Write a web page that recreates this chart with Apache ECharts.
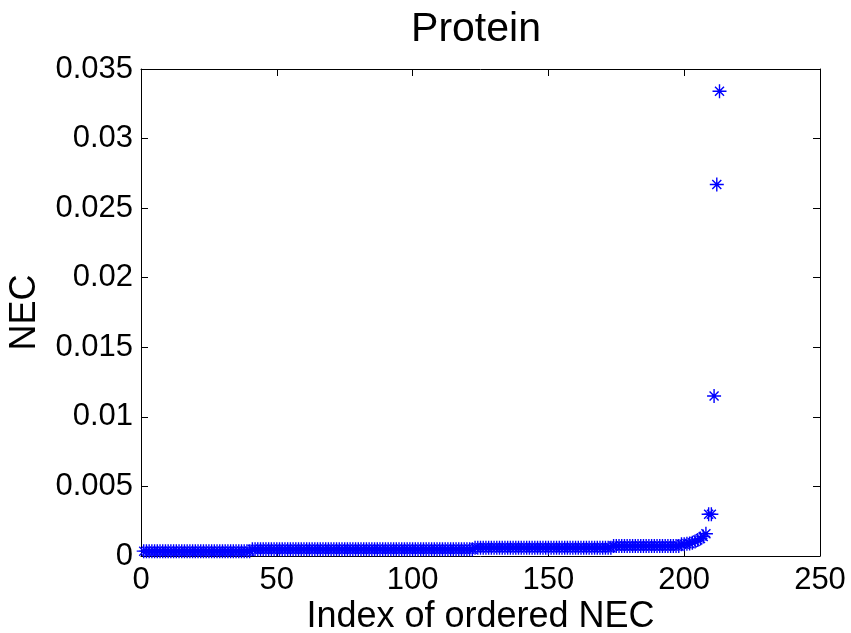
<!DOCTYPE html>
<html>
<head>
<meta charset="utf-8">
<script src="https://cdn.jsdelivr.net/npm/echarts@6/dist/echarts.min.js"></script>
<style>
  html, body { margin: 0; padding: 0; background: #fff; }
  #chart { width: 851px; height: 633px; }
</style>
</head>
<body>
<div id="chart"></div>
<script>
// Normalised NEC values sorted in ascending order (index 1..213)
const necValues = [
  // 1-40
  0.00035, 0.00035, 0.00035, 0.00035, 0.00035, 0.00035, 0.00035, 0.00035, 0.00035, 0.00035,
  0.00035, 0.00035, 0.00035, 0.00035, 0.00035, 0.00035, 0.00035, 0.00035, 0.00035, 0.00035,
  0.00035, 0.00035, 0.00035, 0.00035, 0.00035, 0.00035, 0.00035, 0.00035, 0.00035, 0.00035,
  0.00035, 0.00035, 0.00035, 0.00035, 0.00035, 0.00035, 0.00035, 0.00035, 0.00035, 0.00035,
  // 41-122
  0.00048, 0.00048, 0.00048, 0.00048, 0.00048, 0.00048, 0.00048, 0.00048, 0.00048, 0.00048,
  0.00048, 0.00048, 0.00048, 0.00048, 0.00048, 0.00048, 0.00048, 0.00048, 0.00048, 0.00048,
  0.00048, 0.00048, 0.00048, 0.00048, 0.00048, 0.00048, 0.00048, 0.00048, 0.00048, 0.00048,
  0.00048, 0.00048, 0.00048, 0.00048, 0.00048, 0.00048, 0.00048, 0.00048, 0.00048, 0.00048,
  0.00048, 0.00048, 0.00048, 0.00048, 0.00048, 0.00048, 0.00048, 0.00048, 0.00048, 0.00048,
  0.00048, 0.00048, 0.00048, 0.00048, 0.00048, 0.00048, 0.00048, 0.00048, 0.00048, 0.00048,
  0.00048, 0.00048, 0.00048, 0.00048, 0.00048, 0.00048, 0.00048, 0.00048, 0.00048, 0.00048,
  0.00048, 0.00048, 0.00048, 0.00048, 0.00048, 0.00048, 0.00048, 0.00048, 0.00048, 0.00048,
  0.00048, 0.00048,
  // 123-173
  0.00060, 0.00060, 0.00060, 0.00060, 0.00060, 0.00060, 0.00060, 0.00060, 0.00060, 0.00060,
  0.00060, 0.00060, 0.00060, 0.00060, 0.00060, 0.00060, 0.00060, 0.00060, 0.00060, 0.00060,
  0.00060, 0.00060, 0.00060, 0.00060, 0.00060, 0.00060, 0.00060, 0.00060, 0.00060, 0.00060,
  0.00060, 0.00060, 0.00060, 0.00060, 0.00060, 0.00060, 0.00060, 0.00060, 0.00060, 0.00060,
  0.00060, 0.00060, 0.00060, 0.00060, 0.00060, 0.00060, 0.00060, 0.00060, 0.00060, 0.00060,
  0.00060,
  // 174-198
  0.00072, 0.00072, 0.00072, 0.00072, 0.00072, 0.00072, 0.00072, 0.00072, 0.00072, 0.00072,
  0.00072, 0.00072, 0.00072, 0.00072, 0.00072, 0.00072, 0.00072, 0.00072, 0.00072, 0.00072,
  0.00072, 0.00072, 0.00072, 0.00072, 0.00072,
  // 199-208
  0.00085, 0.00085, 0.00088, 0.00090, 0.00095, 0.00105, 0.00115, 0.00125, 0.00140, 0.00160,
  // 209-213
  0.0030, 0.0030, 0.0115, 0.0267, 0.0334
];

const chartTitle = 'Protein';
const xAxisName = 'Index of ordered NEC';
const yAxisName = 'NEC';
const xRange = [0, 250, 50];
const yRange = [0, 0.035, 0.005];

const points = necValues.map((v, i) => [i + 1, v]);

// MATLAB-style asterisk marker built from four thin bars
const asterisk = 'path://M0,6.3L14,6.3L14,7.7L0,7.7Z' +
  'M6.3,0L7.7,0L7.7,14L6.3,14Z' +
  'M3,2L12,11L11,12L2,3Z' +
  'M11,2L12,3L3,12L2,11Z';

const fontFamily = 'Liberation Sans, Arial, Helvetica, sans-serif';
const black = '#000';
const tickFont = 31;
const nameFont = 36;

const tickFmt = v => String(parseFloat(Number(v).toFixed(4)));

function valueAxis(range, extra) {
  return Object.assign({
    type: 'value',
    min: range[0],
    max: range[1],
    interval: range[2],
    splitLine: { show: false },
    axisLine: { show: true, onZero: false, lineStyle: { color: black, width: 1 } },
    axisTick: { show: true, inside: true, length: 7, lineStyle: { color: black, width: 1 } },
    axisLabel: { show: true, color: black, fontSize: tickFont, fontFamily: fontFamily, formatter: tickFmt }
  }, extra);
}

const chart = echarts.init(document.getElementById('chart'), null, { renderer: 'canvas' });
chart.setOption({
  animation: false,
  backgroundColor: '#fff',
  title: {
    text: chartTitle,
    left: 471,
    textAlign: 'center',
    top: 4,
    textStyle: { color: black, fontSize: 41, fontWeight: 'normal', fontFamily: fontFamily }
  },
  grid: {
    left: 141, top: 69, right: 31, bottom: 77,
    containLabel: false,
    outerBoundsMode: 'none'
  },
  xAxis: [
    valueAxis(xRange, {
      position: 'bottom',
      name: xAxisName,
      nameLocation: 'middle',
      nameGap: 43,
      nameMoveOverlap: false,
      nameTextStyle: { color: black, fontSize: nameFont, fontFamily: fontFamily },
      axisLabel: { color: black, fontSize: tickFont, fontFamily: fontFamily, margin: 9, formatter: tickFmt }
    }),
    valueAxis(xRange, { position: 'top', axisLabel: { show: false } })
  ],
  yAxis: [
    valueAxis(yRange, {
      position: 'left',
      name: yAxisName,
      nameLocation: 'middle',
      nameGap: 98,
      nameMoveOverlap: false,
      nameTextStyle: { color: black, fontSize: nameFont, fontFamily: fontFamily },
      axisLabel: { color: black, fontSize: tickFont, fontFamily: fontFamily, margin: 8, formatter: tickFmt }
    }),
    valueAxis(yRange, { position: 'right', axisLabel: { show: false } })
  ],
  series: [{
    type: 'scatter',
    xAxisIndex: 0,
    yAxisIndex: 0,
    data: points,
    symbol: asterisk,
    symbolSize: 14,
    itemStyle: { color: '#0000ff', opacity: 1 },
    clip: false
  }]
});
</script>
</body>
</html>
